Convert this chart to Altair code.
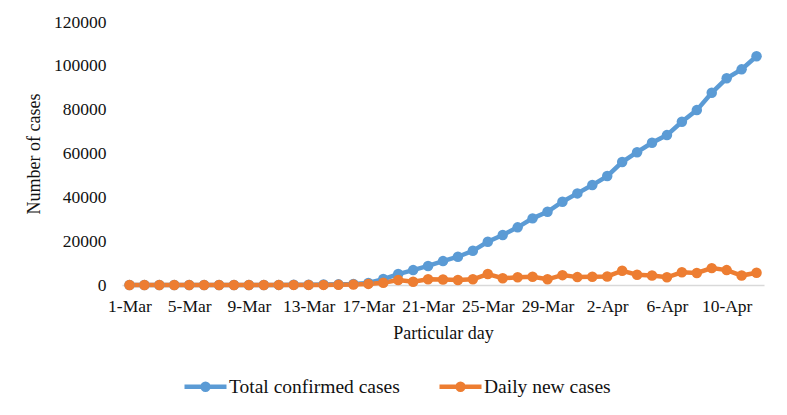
import altair as alt
import pandas as pd

dates = ["1-Mar", "2-Mar", "3-Mar", "4-Mar", "5-Mar", "6-Mar", "7-Mar", "8-Mar", "9-Mar",
         "10-Mar", "11-Mar", "12-Mar", "13-Mar", "14-Mar", "15-Mar", "16-Mar", "17-Mar",
         "18-Mar", "19-Mar", "20-Mar", "21-Mar", "22-Mar", "23-Mar", "24-Mar", "25-Mar",
         "26-Mar", "27-Mar", "28-Mar", "29-Mar", "30-Mar", "31-Mar", "1-Apr", "2-Apr",
         "3-Apr", "4-Apr", "5-Apr", "6-Apr", "7-Apr", "8-Apr", "9-Apr", "10-Apr",
         "11-Apr", "12-Apr"]

total_confirmed = [0, 0, 0, 0, 0, 0, 0, 0, 0, 0, 50, 100, 150, 200, 300, 500, 900,
                   2700, 5000, 6800, 8700, 10900, 12900, 15600, 19700, 22800, 26300,
                   30400, 33400, 38000, 41800, 45600, 49700, 56100, 60600, 64900,
                   68400, 74500, 79800, 87700, 94300, 98400, 104400]

daily_new = [0, 0, 0, 0, 0, 0, 0, 0, 0, 0, 50, 50, 50, 50, 100, 200, 500,
             1000, 2300, 1500, 2600, 2500, 2300, 2600, 5000, 3100, 3500,
             3800, 2600, 4500, 3600, 3800, 3900, 6500, 4700, 4300,
             3500, 5800, 5500, 7700, 6800, 4300, 5600]

series_names = ["Total confirmed cases", "Daily new cases"]
series_colors = ["#5B9BD5", "#ED7D31"]
tick_dates = dates[::4]

rows = []
for name, vals in zip(series_names, [total_confirmed, daily_new]):
    for d, v in zip(dates, vals):
        rows.append({"date": d, "value": v, "series": name})
df = pd.DataFrame(rows)

FONT = "Liberation Serif"

base = alt.Chart(df).encode(
    x=alt.X("date:O", sort=dates,
            scale=alt.Scale(type="point", padding=0.5),
            axis=alt.Axis(title="Particular day", values=tick_dates, labelAngle=0,
                          ticks=False, grid=False, domainColor="#d9d9d9", domainWidth=1.5,
                          labelPadding=12, titlePadding=10, labelFontSize=17.5,
                          titleFontSize=18, titleFontWeight="normal")),
    y=alt.Y("value:Q", scale=alt.Scale(domain=[0, 120000]),
            axis=alt.Axis(title="Number of cases", values=[0, 20000, 40000, 60000, 80000, 100000, 120000],
                          format="d", ticks=False, grid=False, domain=False,
                          labelPadding=16, labelFontSize=17.5, titleFontSize=18,
                          titleFontWeight="normal", titleX=-88, titleY=131.5,
                          titleAlign="center", titleBaseline="middle", titleAngle=-90)),
    color=alt.Color("series:N", scale=alt.Scale(domain=series_names, range=series_colors),
                    legend=alt.Legend(title=None, orient="none", direction="horizontal",
                                      legendX=60, legendY=341,
                                      symbolType="M-1,0L1,0M-0.14,0A0.14,0.14,0,1,1,0.14,0A0.14,0.14,0,1,1,-0.14,0Z",
                                      symbolSize=1764, symbolStrokeWidth=4.5,
                                      labelFontSize=19.5, labelOffset=0, labelLimit=400,
                                      columnPadding=30)),
)

line = base.mark_line(strokeWidth=4.5)
pts = base.mark_circle(size=110, opacity=1)

chart = (line + pts).properties(
    width=642, height=263,
    autosize=alt.AutoSizeParams(type="none"),
    padding={"left": 114, "top": 14, "right": 15, "bottom": 120},
).configure(
    font=FONT,
).configure_view(
    stroke=None
).configure_axis(
    labelFont=FONT, titleFont=FONT, labelColor="#111111", titleColor="#111111"
).configure_legend(
    labelFont=FONT, labelColor="#111111"
)

chart.save("out.html", embed_options={"renderer": "svg", "actions": False})
